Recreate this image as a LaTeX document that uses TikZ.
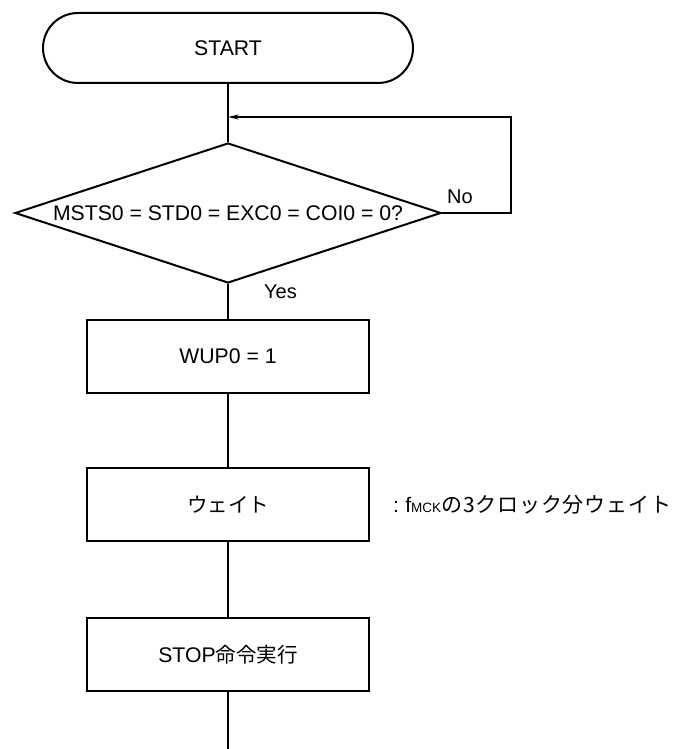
\documentclass[tikz,border=0pt]{standalone}
\usepackage{fontspec}
\setmainfont{Liberation Sans}
\newfontfamily\jp{Noto Sans CJK JP}
\newfontfamily\jpwide[LetterSpace=4]{Noto Sans CJK JP}
\usetikzlibrary{shapes.geometric,arrows.meta}
\begin{document}
\begin{tikzpicture}[x=1pt,y=-1pt,
  every node/.style={font=\fontsize{21.2pt}{25pt}\selectfont},
  boxstyle/.style={draw,line width=2pt,minimum width=282pt,minimum height=73pt,inner sep=0pt},
  termstyle/.style={draw,line width=2pt,rounded corners=35pt,minimum width=370pt,minimum height=70pt,inner sep=0pt},
  decstyle/.style={draw,diamond,line width=2pt,minimum width=426pt,minimum height=140pt,aspect=3.04,inner sep=0pt},
  conn/.style={line width=1.3pt},
  lbl/.style={anchor=west,inner sep=0pt,font=\fontsize{20pt}{24pt}\selectfont}]
\useasboundingbox (0,0) rectangle (672,749);
\node[termstyle] (start) at (228,48) {START};
\node[decstyle] (dec) at (228,213) {MSTS0 = STD0 = EXC0 = COI0 = 0?};
\node[boxstyle] (wait) at (228,504.5) {{\fontsize{20.5pt}{24pt}\selectfont\jp ウェイト}};
\node[boxstyle] (wup) at (228,356.5) {WUP0 = 1};
\node[boxstyle] (stop) at (228,654.5) {STOP{\fontsize{20.5pt}{24pt}\selectfont\jp 命令実行}};
\coordinate (join) at (228,117);
\coordinate (corner1) at (511,213);
\coordinate (corner2) at (511,117);
\coordinate (endpt) at (228,749);
\draw[conn] (start.south) -- (join) -- (dec.north);
\draw[conn,-{Stealth[length=11pt,width=5pt]}] (dec.east) -- (corner1) -- (corner2) -- (join);
\draw[conn] (dec.south) -- (wup.north);
\draw[conn] (wup.south) -- (wait.north);
\draw[conn] (wait.south) -- (stop.north);
\draw[conn] (stop.south) -- (endpt);
\node[lbl] (no) at (447,197) {No};
\node[lbl] (yes) at (264,292) {Yes};
\node[lbl,font=\fontsize{21pt}{25pt}\selectfont] (note) at (393,504.5) {:\hspace{0.3em}f{\fontsize{13.5pt}{16pt}\selectfont MCK}{\jpwide の3クロック分ウェイト}};
\end{tikzpicture}
\end{document}
